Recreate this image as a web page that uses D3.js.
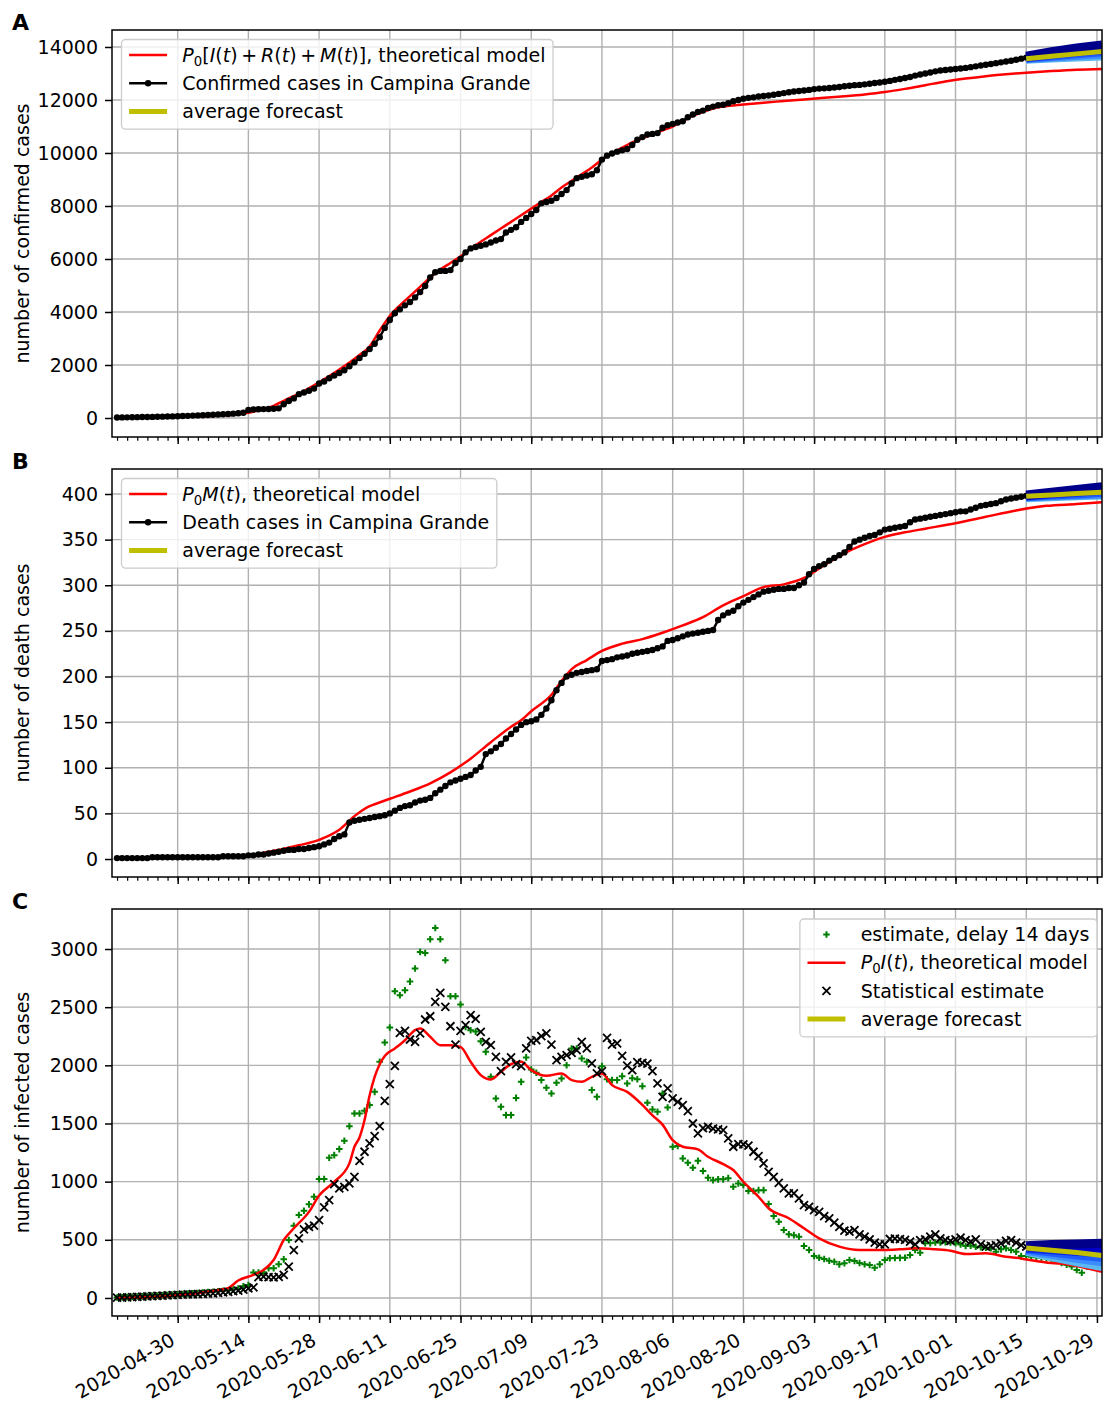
<!DOCTYPE html>
<html>
<head>
<meta charset="utf-8">
<script src="https://cdn.jsdelivr.net/npm/d3@7"></script>
<style>
  body { margin: 0; background: #fff; }
  text { font-family: "DejaVu Sans", sans-serif; }
</style>
</head>
<body>
<script>
// daily series start on 2020-04-18 (day 0)
const startDate = new Date(2020, 3, 18);

// A: confirmed cases, days 0..180
const confirmed = [
  20,22,25,28,32,35,38,42,46,50, 55,60,68,75,82,90,98,105,112,120,
  130,140,150,165,180,200,300,320,330,335, 340,350,365,520,640,740,900,960,1030,1110,
  1300,1380,1500,1600,1700,1800,1950,2100,2260,2420, 2600,2800,3050,3400,3700,3950,4100,4250,4380,4550,
  4750,4980,5300,5500,5550,5550,5580,5850,6000,6250, 6400,6450,6500,6550,6620,6700,6750,7000,7100,7200,
  7400,7550,7700,7850,8100,8150,8200,8300,8450,8600, 8850,9050,9100,9150,9200,9350,9750,9900,9980,10050,
  10100,10150,10300,10500,10600,10700,10720,10750,10950,11050, 11100,11150,11200,11350,11450,11550,11600,11700,11750,11800,
  11820,11880,11950,12000,12050,12080,12100,12130,12150,12170, 12200,12230,12260,12290,12320,12340,12360,12380,12410,12430,
  12440,12450,12470,12490,12520,12540,12560,12570,12590,12610, 12640,12660,12690,12720,12760,12790,12830,12870,12920,12960,
  13000,13040,13080,13110,13130,13150,13170,13190,13210,13240, 13270,13300,13330,13360,13390,13420,13450,13480,13520,13560,13600
];
const modelADays = [0,10,20,26,29,31,33,36,40,44,48,50,52,54,56,58,60,62,64,66,68,70,72,74,76,78,80,82,84,86,88,90,92,94,96,98,100,102,104,106,108,110,112,114,116,118,120,124,128,132,136,140,144,148,152,156,160,164,168,172,176,180,185,190,195];
const modelA = [0,30,90,200,330,460,650,920,1350,1830,2380,2700,3300,3850,4250,4600,4950,5300,5600,5850,6100,6400,6650,6900,7150,7400,7650,7900,8150,8400,8700,8950,9200,9450,9750,9980,10200,10400,10550,10700,10850,11000,11200,11400,11550,11680,11750,11830,11900,11960,12020,12080,12140,12210,12300,12420,12560,12700,12810,12900,12970,13030,13090,13140,13170];

// B: deaths, days 0..180
const deaths = [
  1,1,1,1,1,1,1,2,2,2, 2,2,2,2,2,2,2,2,2,2,
  2,3,3,3,3,3,4,4,5,5, 6,7,8,9,10,10,11,11,12,13,
  14,16,18,22,25,27,40,42,43,44, 45,46,47,48,50,53,56,58,59,62,
  64,65,67,72,76,80,84,86,88,90, 92,97,101,115,118,122,126,132,137,142,
  147,150,151,153,158,165,174,185,193,200, 202,204,205,206,207,208,217,218,219,221,
  222,223,225,226,227,228,229,231,233,239, 240,242,244,246,247,248,249,250,251,262,
  267,270,272,277,281,284,287,290,293,294, 295,296,296,297,297,300,303,312,318,321,
  323,327,330,333,336,342,348,350,352,354, 355,358,361,362,363,364,365,369,372,373,
  374,375,376,377,378,379,380,381,381,383, 385,387,388,389,390,392,394,395,396,397,398
];
const modelBDays = [0,20,26,32,36,40,44,47,50,51,54,58,62,66,70,74,78,80,82,86,88,90,93,96,100,104,108,112,116,120,124,128,132,136,140,144,148,152,156,160,166,172,178,184,190,195];
const modelB = [0.5,2,4,10,15,21,32,47,58,60,66,74,83,95,110,128,145,152,162,180,195,208,218,228,236,241,248,256,265,278,288,298,301,308,322,335,345,353,358,362,368,375,382,387,389,391];

// C: infected, statistical estimate (x), days 0..194
const statEstimate = [
  2,4,6,8,10,12,14,16,18,20, 22,24,26,28,30,32,34,36,38,40,
  44,48,52,58,64,72,82,92,180,183, 180,178,182,198,269,412,513,590,612,621,
  670,779,842,979,942,956,985,1042,1179,1257, 1329,1392,1477,1695,1838,1996,2279,2296,2222,2202,
  2274,2394,2422,2545,2623,2502,2336,2179,2296,2345, 2431,2399,2288,2202,2173,2073,1950,2030,2068,2010,
  1993,2145,2210,2216,2251,2274,2179,2044,2073,2087, 2107,2130,2202,2145,2016,1930,1950,2236,2179,2188,
  2081,1997,1959,2027,2022,2015,1950,1844,1729,1801, 1715,1686,1658,1606,1500,1415,1460,1470,1455,1450,
  1443,1372,1300,1323,1320,1310,1257,1220,1157,1085, 1042,990,942,899,899,856,799,784,756,741,
  704,684,647,612,578,570,584,547,527,504, 475,461,461,507,510,505,500,484,461,498,
  504,527,547,513,498,490,504,518,498,484, 504,461,441,447,455,470,490,498,475,455,
  441,427,430,425,418,410,398,380,355,335, 320,330,345,360,370
];
// C: estimate with 14-day delay (+), days 0..193
const delayEstimate = [
  4,6,8,10,12,14,16,18,20,22, 25,28,31,34,37,40,43,46,50,54,
  58,62,67,72,80,100,112,219,219,222, 255,255,290,332,498,621,713,750,805,870,
  1022,1022,1205,1228,1280,1351,1477,1586,1586,1609, 1658,1772,2030,2196,2325,2637,2603,2646,2720,2832,
  2975,2966,3084,3181,3084,2903,2594,2594,2523,2330, 2302,2290,2207,2116,1901,1715,1643,1572,1572,1720,
  1858,2068,1964,1936,1873,1807,1758,1850,1887,2001, 2145,2145,2059,2030,1787,1729,1993,1880,1873,1873,
  1907,1844,1890,1880,1821,1678,1621,1600,1758,1638, 1300,1306,1200,1162,1119,1179,1091,1033,1013,1020,
  1020,1030,956,985,971,919,919,927,927,807, 704,655,584,547,540,527,447,412,361,346,
  335,320,312,289,298,326,318,300,290,283, 260,289,326,341,343,345,346,369,412,389,
  470,470,477,477,480,477,470,460,447,449, 440,436,432,428,398,418,427,412,398,361,
  361,355,350,345,340,330,320,300,285,270, 240,217,270,300
];
const modelCDays = [0,10,20,22,24,27,29,31,33,35,38,40,43,46,47,48,49,50,51,52,53,55,57,59,60,62,64,66,68,70,72,74,76,78,80,82,85,88,90,92,94,96,98,101,104,106,108,110,112,115,117,120,122,124,127,129,133,136,139,143,147,152,155,158,162,165,168,172,176,179,181,185,188,192,195];
const modelC = [0,15,68,85,150,198,240,326,498,599,740,880,999,1157,1300,1380,1530,1740,1900,2010,2080,2145,2216,2302,2317,2245,2173,2173,2159,2030,1916,1878,1944,2010,2030,1959,1910,1930,1873,1858,1901,1930,1830,1772,1660,1570,1490,1357,1300,1277,1214,1151,1100,999,870,771,685,599,513,441,412,412,418,427,418,406,378,384,355,340,325,300,290,255,226];

// forecasts: trajectories (bottom to top) and average, at these days
const forecastDays = [180, 185, 190, 195];
const forecastA = [
  [13540,13580,13620,13660], [13560,13620,13680,13740], [13580,13660,13740,13820],
  [13600,13710,13810,13900], [13620,13760,13880,13990], [13650,13820,13960,14080]
];
const averageA = [13560,13650,13740,13830];
const forecastB = [
  [396,397,398,399], [397,398,399,400], [397,399,400,402],
  [398,400,402,404], [398,401,403,406], [399,402,405,408]
];
const averageB = [397.5,399,400.5,402];
const forecastC = [
  [400,355,310,270], [410,375,340,310], [420,395,370,350],
  [430,415,400,390], [440,440,435,430], [450,460,465,470]
];
const averageC = [430,410,390,365];

const yTicksA = d3.range(0, 14001, 2000);
const yTicksB = d3.range(0, 401, 50);
const yTicksC = d3.range(0, 3001, 500);

const W = 1103, H = 1403;
const left = 112, right = 1102;
const fs = 19;
const fcColors = ["#5cb8f0", "#3c8cff", "#1f5cff", "#0a2ee6", "#0000c8", "#00008b"];
const yellow = "#bfbf00", green = "#008000";

const day = i => d3.timeDay.offset(startDate, i);
const x = d3.scaleTime()
    .domain([new Date(2020, 3, 17), new Date(2020, 9, 30)])
    .range([left, right]);
const majorDates = d3.range(0, 14).map(k => d3.timeDay.offset(new Date(2020, 3, 30), 14 * k));
const minorDates = d3.timeDay.range(new Date(2020, 3, 18), new Date(2020, 9, 30), 2);

const svg = d3.select("body").append("svg")
    .attr("width", W)
    .attr("height", H)
    .attr("viewBox", [0, 0, W, H]);

const panels = [
  {letter: "A", top: 30, bottom: 437, domain: [-717, 14641], ticks: yTicksA, label: "number of confirmed cases"},
  {letter: "B", top: 469, bottom: 877, domain: [-19.7, 427.4], ticks: yTicksB, label: "number of death cases"},
  {letter: "C", top: 909, bottom: 1316, domain: [-155, 3344], ticks: yTicksC, label: "number of infected cases"}
];

function setup(p) {
  const y = d3.scaleLinear().domain(p.domain).range([p.bottom, p.top]);
  const g = svg.append("g");
  svg.append("clipPath").attr("id", "clip" + p.letter)
    .append("rect")
      .attr("x", left).attr("y", p.top)
      .attr("width", right - left).attr("height", p.bottom - p.top);

  // grid
  g.append("g")
      .attr("stroke", "#b0b0b0").attr("stroke-width", 1.4)
    .selectAll("line")
    .data(majorDates)
    .join("line")
      .attr("x1", d => x(d)).attr("x2", d => x(d))
      .attr("y1", p.top).attr("y2", p.bottom);
  g.append("g")
      .attr("stroke", "#b0b0b0").attr("stroke-width", 1.4)
    .selectAll("line")
    .data(p.ticks)
    .join("line")
      .attr("x1", left).attr("x2", right)
      .attr("y1", d => y(d)).attr("y2", d => y(d));

  const plot = g.append("g").attr("clip-path", `url(#clip${p.letter})`);
  return {g, y, plot};
}

function finish(p, g, y) {
  g.append("rect")
      .attr("x", left).attr("y", p.top)
      .attr("width", right - left).attr("height", p.bottom - p.top)
      .attr("fill", "none").attr("stroke", "black").attr("stroke-width", 1.5);

  g.append("g")
      .attr("transform", `translate(${left},0)`)
      .call(d3.axisLeft(y).tickValues(p.ticks).tickSize(7).tickPadding(7).tickFormat(d3.format("d")))
      .call(a => a.select(".domain").remove())
      .call(a => a.selectAll("line").attr("stroke", "black").attr("stroke-width", 1.5))
      .call(a => a.selectAll("text").attr("font-size", fs).attr("fill", "black")
          .attr("font-family", "DejaVu Sans"));

  g.append("g")
      .attr("transform", `translate(0,${p.bottom})`)
      .call(d3.axisBottom(x).tickValues(minorDates).tickSize(3.8).tickFormat(""))
      .call(a => a.select(".domain").remove())
      .call(a => a.selectAll("line").attr("stroke", "black").attr("stroke-width", 1.2));

  const fmt = d3.timeFormat("%Y-%m-%d");
  g.append("g")
      .attr("transform", `translate(0,${p.bottom})`)
      .call(d3.axisBottom(x).tickValues(majorDates).tickSize(7)
          .tickFormat(p.letter === "C" ? fmt : () => ""))
      .call(a => a.select(".domain").remove())
      .call(a => a.selectAll("line").attr("stroke", "black").attr("stroke-width", 1.5))
      .call(a => a.selectAll("text")
          .attr("font-size", fs).attr("fill", "black").attr("font-family", "DejaVu Sans")
          .attr("text-anchor", "end").attr("y", 0).attr("dy", 0)
          .attr("transform", "translate(-2,28) rotate(-30)"));

  g.append("text")
      .attr("transform", `translate(29,${(p.top + p.bottom) / 2}) rotate(-90)`)
      .attr("text-anchor", "middle")
      .attr("font-size", fs)
      .text(p.label);

  g.append("text")
      .attr("x", 12).attr("y", p.top)
      .attr("font-size", 22).attr("font-weight", "bold")
      .text(p.letter);
}

function forecast(plot, y, trajectories, average) {
  const line = d3.line().x((d, k) => x(day(forecastDays[k]))).y(d => y(d));
  trajectories.forEach((t, k) => {
    plot.append("path")
        .attr("d", line(t))
        .attr("fill", "none")
        .attr("stroke", fcColors[k])
        .attr("stroke-width", 9);
  });
  plot.append("path")
      .attr("d", line(average))
      .attr("fill", "none")
      .attr("stroke", yellow)
      .attr("stroke-width", 5);
}

function modelLine(plot, y, days, values) {
  plot.append("path")
      .datum(values)
      .attr("fill", "none")
      .attr("stroke", "#ff0000")
      .attr("stroke-width", 2.5)
      .attr("d", d3.line().curve(d3.curveMonotoneX)
          .x((d, k) => x(day(days[k]))).y(d => y(d)));
}

function dottedSeries(plot, y, values) {
  plot.append("path")
      .datum(values)
      .attr("fill", "none")
      .attr("stroke", "black")
      .attr("stroke-width", 2.5)
      .attr("d", d3.line().x((d, k) => x(day(k))).y(d => y(d)));
  plot.append("g")
    .selectAll("circle")
    .data(values)
    .join("circle")
      .attr("cx", (d, k) => x(day(k)))
      .attr("cy", d => y(d))
      .attr("r", 3.2)
      .attr("fill", "black");
}

const plusPath = "M-3.3,0H3.3M0,-3.3V3.3";
const crossPath = "M-4,-4L4,4M-4,4L4,-4";

// rich label segments: [text, style] style: "" normal, "i" italic, "s" subscript
function richText(t, segs) {
  let shifted = false;
  segs.forEach(([s, st]) => {
    const ts = t.append("tspan").text(s);
    if (st === "i") ts.attr("font-style", "italic");
    if (st === "s") { ts.attr("font-size", fs * 0.7).attr("dy", 4); shifted = true; }
    else if (shifted) { ts.attr("dy", -4); shifted = false; }
  });
}

function legend(items, pos) {
  const g = svg.append("g");
  const box = g.append("rect")
      .attr("rx", 4)
      .attr("fill", "white").attr("fill-opacity", 0.8)
      .attr("stroke", "#cccccc").attr("stroke-width", 1.3);
  const pad = 7.6, hl = 38, htp = 15.2, rowH = 28.2;
  let maxW = 0;
  items.forEach((it, k) => {
    const cy = 15.5 + k * rowH;
    const hx0 = pad, hx1 = pad + hl, hm = (hx0 + hx1) / 2;
    if (it.kind === "line" || it.kind === "linedot") {
      g.append("line")
          .attr("x1", hx0).attr("x2", hx1).attr("y1", cy).attr("y2", cy)
          .attr("stroke", it.color).attr("stroke-width", it.width);
      if (it.kind === "linedot") {
        g.append("circle").attr("cx", hm).attr("cy", cy).attr("r", 3.2).attr("fill", it.color);
      }
    } else {
      g.append("path")
          .attr("d", it.kind === "plus" ? plusPath : crossPath)
          .attr("transform", `translate(${hm},${cy})`)
          .attr("stroke", it.color).attr("stroke-width", it.kind === "plus" ? 2 : 1.8)
          .attr("fill", "none");
    }
    const t = g.append("text")
        .attr("x", hx1 + htp).attr("y", cy).attr("dy", "0.35em")
        .attr("font-size", fs);
    richText(t, it.label);
    maxW = Math.max(maxW, t.node().getComputedTextLength());
  });
  const w = pad + hl + htp + maxW + pad;
  const h = items.length * rowH + 5;
  box.attr("width", w).attr("height", h);
  const lx = pos.right !== undefined ? pos.right - w : pos.left;
  g.attr("transform", `translate(${lx},${pos.top})`);
}

const plusOp = ")\u2009+\u2009";

// Panel A
{
  const p = panels[0];
  const {g, y, plot} = setup(p);
  modelLine(plot, y, modelADays, modelA);
  dottedSeries(plot, y, confirmed);
  forecast(plot, y, forecastA, averageA);
  finish(p, g, y);
  legend([
    {kind: "line", color: "#ff0000", width: 2.5, label: [["P","i"],["0","s"],["[",""],["I","i"],["(",""],["t","i"],[plusOp,""],["R","i"],["(",""],["t","i"],[plusOp,""],["M","i"],["(",""],["t","i"],[")]",""],[", theoretical model",""]]},
    {kind: "linedot", color: "black", width: 2.5, label: [["Confirmed cases in Campina Grande",""]]},
    {kind: "line", color: yellow, width: 5, label: [["average forecast",""]]}
  ], {left: 121.5, top: 39.5});
}

// Panel B
{
  const p = panels[1];
  const {g, y, plot} = setup(p);
  modelLine(plot, y, modelBDays, modelB);
  dottedSeries(plot, y, deaths);
  forecast(plot, y, forecastB, averageB);
  finish(p, g, y);
  legend([
    {kind: "line", color: "#ff0000", width: 2.5, label: [["P","i"],["0","s"],["M","i"],["(",""],["t","i"],[")",""],[", theoretical model",""]]},
    {kind: "linedot", color: "black", width: 2.5, label: [["Death cases in Campina Grande",""]]},
    {kind: "line", color: yellow, width: 5, label: [["average forecast",""]]}
  ], {left: 121.5, top: 478.5});
}

// Panel C
{
  const p = panels[2];
  const {g, y, plot} = setup(p);
  plot.append("g")
      .attr("stroke", green).attr("stroke-width", 2).attr("fill", "none")
    .selectAll("path")
    .data(delayEstimate)
    .join("path")
      .attr("d", plusPath)
      .attr("transform", (d, k) => `translate(${x(day(k))},${y(d)})`);
  modelLine(plot, y, modelCDays, modelC);
  plot.append("g")
      .attr("stroke", "black").attr("stroke-width", 1.8).attr("fill", "none")
    .selectAll("path")
    .data(statEstimate)
    .join("path")
      .attr("d", crossPath)
      .attr("transform", (d, k) => `translate(${x(day(k))},${y(d)})`);
  forecast(plot, y, forecastC, averageC);
  finish(p, g, y);
  legend([
    {kind: "plus", color: green, label: [["estimate, delay 14 days",""]]},
    {kind: "line", color: "#ff0000", width: 2.5, label: [["P","i"],["0","s"],["I","i"],["(",""],["t","i"],[")",""],[", theoretical model",""]]},
    {kind: "cross", color: "black", label: [["Statistical estimate",""]]},
    {kind: "line", color: yellow, width: 5, label: [["average forecast",""]]}
  ], {right: 1097, top: 919});
}
</script>
</body>
</html>
